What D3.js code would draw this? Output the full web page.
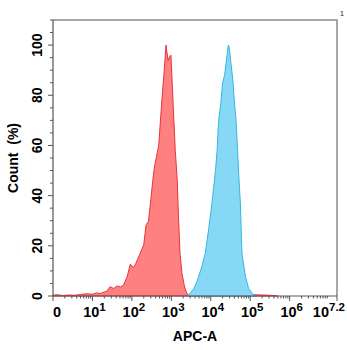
<!DOCTYPE html>
<html>
<head>
<meta charset="utf-8">
<script src="https://cdn.jsdelivr.net/npm/d3@7"></script>
<style>
  body { margin: 0; background: #fff; }
  text { font-family: "Liberation Sans", Arial, sans-serif; font-weight: bold; }
</style>
</head>
<body>
<div id="chart"></div>
<script>
// histogram outlines, x = log10(APC-A), y = count (%)
const redLog = [0.00, 0.10, 0.25, 0.40, 0.55, 0.70, 0.85, 1.00, 1.10, 1.20, 1.30, 1.37, 1.45, 1.54, 1.62, 1.71, 1.79, 1.88, 1.96, 2.04, 2.10, 2.21, 2.30, 2.36, 2.42, 2.47, 2.55, 2.59, 2.68, 2.76, 2.82, 2.865, 2.89, 2.92, 2.96, 2.99, 3.05, 3.10, 3.15, 3.18, 3.22, 3.27, 3.33, 3.38, 3.43, 3.60, 3.90, 4.30, 4.70, 5.10, 5.50, 5.70];
const redVal = [0.3, 0.5, 0.2, 0.4, 0.3, 0.6, 0.9, 0.7, 1.2, 1.0, 1.6, 2.0, 3.7, 3.0, 4.0, 3.6, 4.4, 7.7, 12.7, 11.3, 13.0, 17.0, 20.4, 28.4, 29.7, 37.0, 49.0, 53.0, 60.0, 78.0, 90.0, 100.0, 97.0, 93.8, 95.5, 96.0, 75.0, 58.0, 46.0, 32.0, 17.0, 9.0, 4.0, 1.5, 0.4, 0.3, 0.2, 0.4, 0.2, 0.5, 0.3, 0.0];

const blueLog = [3.40, 3.44, 3.50, 3.57, 3.63, 3.69, 3.78, 3.86, 3.95, 4.03, 4.12, 4.16, 4.20, 4.25, 4.30, 4.35, 4.39, 4.42, 4.445, 4.47, 4.51, 4.56, 4.60, 4.64, 4.68, 4.71, 4.75, 4.79, 4.88, 4.96, 5.05, 5.10, 5.15];
const blueVal = [0.0, 0.5, 1.5, 3.0, 5.0, 7.7, 12.0, 17.0, 27.0, 37.0, 50.0, 58.0, 70.0, 76.0, 85.0, 88.0, 93.0, 97.0, 100.0, 99.0, 93.0, 86.0, 77.0, 70.0, 58.0, 48.0, 37.0, 17.0, 7.7, 3.0, 1.0, 0.4, 0.0];

const xTicks = [0, 1, 2, 3, 4, 5, 6, 7.2];
const xTickSup = ["", "1", "2", "3", "4", "5", "6", "7.2"];
const yTicks = [0, 20, 40, 60, 80, 100];

const width = 347, height = 350,
  margin = {top: 20, right: 10, bottom: 54, left: 53};

const svg = d3.select("#chart").append("svg")
  .attr("width", width).attr("height", height);

const x = d3.scaleLinear().domain([0, 7.2]).range([margin.left, width - margin.right]);
const y = d3.scaleLinear().domain([0, 110]).range([height - margin.bottom, margin.top]);

const area = d3.area()
  .x(d => x(d[0])).y0(y(0)).y1(d => y(d[1]));

const red = d3.zip(redLog, redVal), blue = d3.zip(blueLog, blueVal);

svg.append("path").datum(red)
  .attr("d", area).attr("fill", "#ff8080").attr("stroke", "#e8343a").attr("stroke-width", 1);
svg.append("path").datum(blue)
  .attr("d", area).attr("fill", "#87d8f5").attr("stroke", "#34b6e6").attr("stroke-width", 1);

// frame
svg.append("path")
  .attr("d", `M${x(0)},${y(110)}H${x(7.2)}V${y(0)}`)
  .attr("fill", "none").attr("stroke", "#8a8a8a").attr("stroke-width", 1.5);

// small stray mark at top right corner
svg.append("text")
  .attr("x", x(7.2) + 3).attr("y", y(110) - 4)
  .attr("font-size", 7).attr("fill", "#666").attr("font-weight", "normal")
  .text("1");

// y axis
const yMinor = d3.range(0, 111, 5);
const yAxis = svg.append("g").attr("transform", `translate(${x(0)},0)`);
yAxis.append("line").attr("y1", y(0)).attr("y2", y(110)).attr("stroke", "#555").attr("stroke-width", 1.2);
yAxis.selectAll(".minor").data(yMinor).join("line")
  .attr("x1", 0).attr("x2", d => d % 20 === 0 ? -5 : -3)
  .attr("y1", d => y(d)).attr("y2", d => y(d))
  .attr("stroke", "#555");
yAxis.selectAll("text").data(yTicks).join("text")
  .attr("transform", d => `translate(-11,${y(d)}) rotate(-90)`)
  .attr("text-anchor", "middle")
  .attr("font-size", 14)
  .text(d => d);

// x axis
const xAxis = svg.append("g").attr("transform", `translate(0,${y(0)})`);
xAxis.append("line").attr("x1", x(0)).attr("x2", x(7.2)).attr("stroke", "#555").attr("stroke-width", 1.2);
const xMinor = [];
for (let dec = 0; dec < 8; dec++) for (let m = 2; m < 10; m++) {
  const v = dec + Math.log10(m);
  if (v < 7.2) xMinor.push(v);
}
xAxis.selectAll(".minor").data(xMinor).join("line")
  .attr("x1", d => x(d)).attr("x2", d => x(d)).attr("y1", 0).attr("y2", 2.5)
  .attr("stroke", "#555");
xAxis.selectAll(".major").data(xTicks).join("line")
  .attr("x1", d => x(d)).attr("x2", d => x(d)).attr("y1", 0).attr("y2", 5)
  .attr("stroke", "#555");
const lab = xAxis.selectAll("text").data(xTicks).join("text")
  .attr("x", (d, i) => i === 0 ? x(d) + 4 : (i === xTicks.length - 1 ? width - 2 : x(d) + 2))
  .attr("y", 21)
  .attr("text-anchor", (d, i) => i === xTicks.length - 1 ? "end" : "middle")
  .attr("font-size", 14.5);
lab.each(function(d, i) {
  const t = d3.select(this);
  if (i === 0) { t.text("0"); return; }
  t.append("tspan").text("10");
  t.append("tspan").attr("dy", -6).attr("font-size", 11.5).text(xTickSup[i]);
});

// titles
svg.append("text")
  .attr("transform", `translate(18,${(y(0) + y(110)) / 2}) rotate(-90)`)
  .attr("text-anchor", "middle").attr("font-size", 14)
  .attr("xml:space", "preserve")
  .text("Count  (%)");
svg.append("text")
  .attr("x", (x(0) + x(7.2)) / 2).attr("y", 341)
  .attr("text-anchor", "middle").attr("font-size", 14)
  .text("APC-A");
</script>
</body>
</html>
